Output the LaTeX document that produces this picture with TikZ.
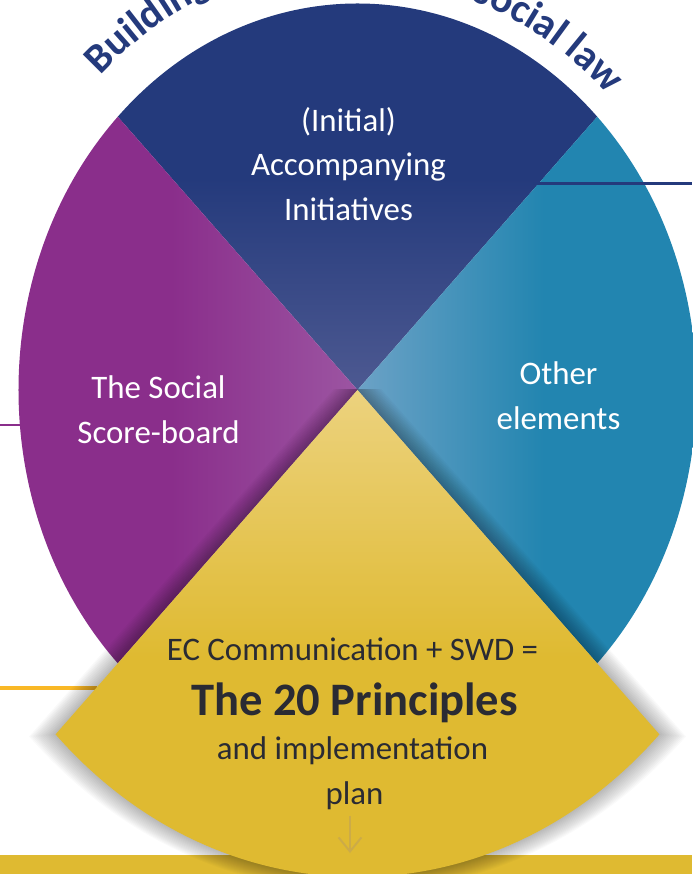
\documentclass[tikz,border=0pt]{standalone}
\usepackage{fontspec}
\setmainfont{Carlito}
\usetikzlibrary{decorations.text,arrows.meta}
\definecolor{navy}{HTML}{243A7C}
\definecolor{navylight}{HTML}{4D5991}
\definecolor{plum}{HTML}{8A2E8B}
\definecolor{plumlight}{HTML}{9C55A2}
\definecolor{sea}{HTML}{2285B0}
\definecolor{sealight}{HTML}{6CA2C6}
\definecolor{gold}{HTML}{DFBA31}
\definecolor{goldlight}{HTML}{ECD27E}
\definecolor{golddark}{HTML}{CCAB48}
\definecolor{amber}{HTML}{F9B826}
\definecolor{ink}{HTML}{2A2B33}

\begin{document}
\begin{tikzpicture}[x=0.02cm,y=0.02cm,
	white text/.style={text=white,align=center,font=\fontsize{18.7}{25.5}\selectfont},
	gold text/.style={text=ink,anchor=base,font=\fontsize{18.7}{22}\selectfont},
	link/.style={line width=1.7pt},
	arc text/.style={decorate,decoration={text along path,text align=left,text={#1}}}]
%	\draw[help lines](-357.5,-484)grid[step=50](334.5,390);
	\useasboundingbox (-357.5,-484) rectangle (334.5,390);
	
	% band at the bottom
	\fill [gold](-357.5,-465) rectangle (334.5,-484);
	
	% the four quarters
	\shade [top color=navy,bottom color=navylight,middle color=navy](0,0)--(45:339 and 386.5) arc[start angle=45,end angle=135,x radius=339,y radius=386.5]--cycle;
	\shade [left color=plum,right color=plumlight,middle color=plum](0,0)--(135:339 and 386.5) arc[start angle=135,end angle=225,x radius=339,y radius=386.5]--cycle;
	\shade [left color=sealight,right color=sea,middle color=sea](0,0)--(-45:339 and 386.5) arc[start angle=-45,end angle=45,x radius=339,y radius=386.5]--cycle;
	
	% connectors
	\coordinate (navyin) at (175.5,206);
	\coordinate (navyout) at (334.5,206);
	\coordinate (plumout) at (-357.5,-35);
	\coordinate (plumin) at (-337.5,-35);
	\coordinate (amberout) at (-357.5,-298);
	\coordinate (amberin) at (-260.5,-298);
	\draw [link,navy](navyin)--(navyout);
	\draw [link,plum](plumout)--(plumin);
	\draw [link,amber,line width=2.3pt](amberout)--(amberin);
	
	% shadow of the big quarter
	\begin{scope}
		\clip (-400,0) rectangle (400,-500);
		\foreach \s [evaluate=\s as \f using 1+0.0055*\s] in {1,...,16}
			\fill [black,opacity=0.018,shift={(0,-320)},scale=\f,shift={(0,320)}](0,0)--(-45:427 and 487) arc[start angle=-45,end angle=-135,x radius=427,y radius=487]--cycle;
	\end{scope}
	\shade [top color=goldlight,bottom color=gold,middle color=gold](0,0)--(-45:427 and 487) arc[start angle=-45,end angle=-135,x radius=427,y radius=487]--cycle;
	
	% curved title
	\path [arc text={|\color{navy}\bfseries\fontsize{23.5}{28}\selectfont|Building on}](133:377 and 430) arc[start angle=133,end angle=95,x radius=377,y radius=430];
	\path [arc text={|\color{navy}\bfseries\fontsize{23.5}{28}\selectfont|social law}](71.5:360 and 411) arc[start angle=71.5,end angle=30,x radius=360,y radius=411];
	
	% labels
	\node [white text](initiatives) at (-9,226){(Initial)\\Accompanying\\Initiatives};
	\node [white text](scoreboard) at (-199,-20){The Social\\Score-board};
	\node [white text](other) at (201,-6){Other\\elements};
	
	\node [gold text](ec) at (-5,-270){EC Communication + SWD =};
	\node [gold text,font=\bfseries\fontsize{26.5}{30}\selectfont](principles) at (-3,-325){The 20 Principles};
	\node [gold text](impl) at (-5,-369){and implementation};
	\node [gold text](plan) at (-3,-414){plan};
	
	\coordinate (arrowend) at (-7.5,-463);
	\draw [golddark,line width=1.1pt,-{Straight Barb[length=8pt,width=13pt]}](plan.south-|arrowend)--(arrowend);
\end{tikzpicture}
\end{document}
